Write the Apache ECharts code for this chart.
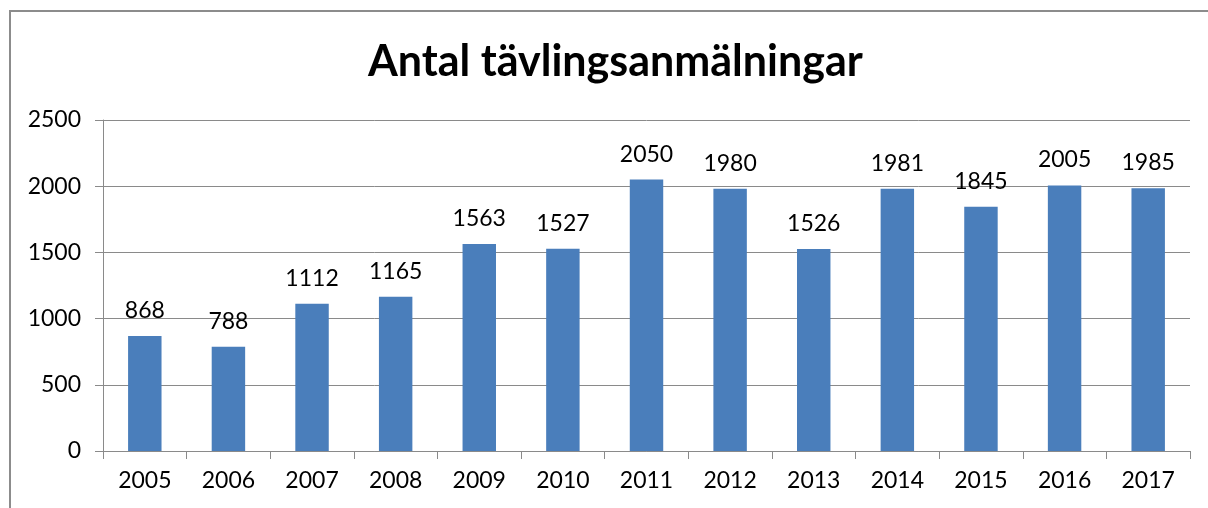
<!DOCTYPE html>
<html>
<head>
<meta charset="utf-8">
<script src="https://cdn.jsdelivr.net/npm/echarts@6/dist/echarts.min.js"></script>
<style>
  html, body { margin: 0; padding: 0; background: #fff; }
  #chart { width: 1208px; height: 508px; }
</style>
</head>
<body>
<div id="chart"></div>
<script>
const titleText = 'Antal tävlingsanmälningar';
const years = ['2005', '2006', '2007', '2008', '2009', '2010', '2011', '2012', '2013', '2014', '2015', '2016', '2017'];
const entries = [868, 788, 1112, 1165, 1563, 1527, 2050, 1980, 1526, 1981, 1845, 2005, 1985];

const font = 'Lato, "Open Sans", sans-serif';
const lineColor = '#8a8a8a';

const chart = echarts.init(document.getElementById('chart'));
chart.setOption({
    animation: false,
    title: {
        text: titleText,
        left: 363,
        top: 36,
        textStyle: { fontFamily: font, fontSize: 43, fontWeight: 'bold', color: '#000' }
    },
    graphic: [
        // chart frame (left and top edge visible)
        {
            type: 'polyline',
            shape: { points: [[10, 508], [10, 11], [1208, 11]] },
            style: { stroke: '#8c8c8c', lineWidth: 2, fill: null }
        }
    ],
    grid: { left: 103, right: 18, top: 120, bottom: 57 },
    xAxis: {
        type: 'category',
        data: years,
        axisLine: { lineStyle: { color: lineColor, width: 1 } },
        axisTick: { show: true, length: 8, lineStyle: { color: lineColor } },
        axisLabel: { fontFamily: font, fontSize: 23, color: '#000', margin: 18 }
    },
    yAxis: {
        type: 'value',
        min: 0,
        max: 2500,
        interval: 500,
        axisLine: { show: true, lineStyle: { color: lineColor, width: 1 } },
        axisTick: { show: true, length: 8, lineStyle: { color: lineColor } },
        axisLabel: { fontFamily: font, fontSize: 23, color: '#000', margin: 22, formatter: v => String(v) },
        splitLine: { lineStyle: { color: lineColor, width: 1 } }
    },
    series: [
        {
            type: 'bar',
            data: entries,
            barWidth: '40%',
            itemStyle: { color: '#4a7ebb' },
            label: {
                show: true,
                position: 'top',
                distance: 14,
                fontFamily: font,
                fontSize: 23,
                color: '#000'
            }
        }
    ]
});
</script>
</body>
</html>
